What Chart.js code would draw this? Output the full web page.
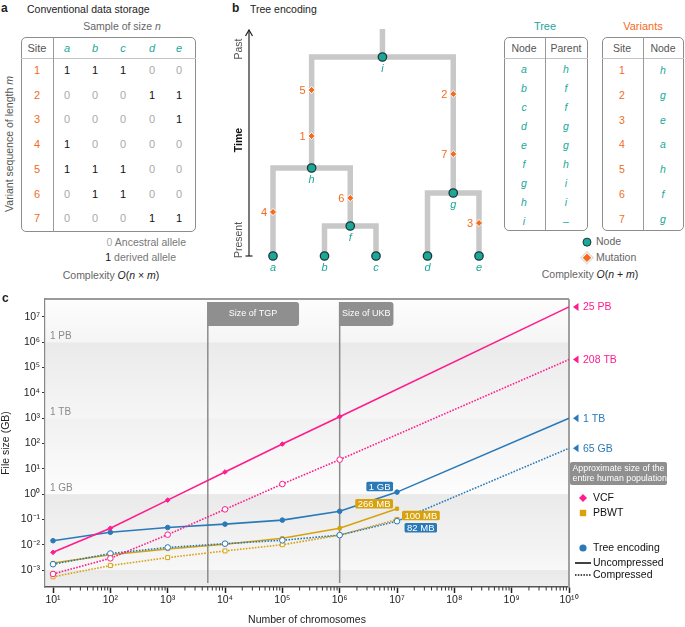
<!DOCTYPE html>
<html><head><meta charset="utf-8">
<script src="https://cdn.jsdelivr.net/npm/chart.js@4.4.1/dist/chart.umd.min.js"></script>
<style>
html,body{margin:0;padding:0;background:#fff;}
body{width:685px;height:627px;position:relative;overflow:hidden;font-family:'Liberation Sans',Arial,sans-serif;font-size:10.5px;color:#222;}
.t{position:absolute;white-space:nowrap;line-height:1;}
.c{transform:translate(-50%,-50%);}
.l{transform:translate(0,-50%);}
.r{transform:translate(-100%,-50%);}
.rot{transform:translate(-50%,-50%) rotate(-90deg);}
.box{position:absolute;border:1.3px solid #8d8d8d;border-radius:5px;box-sizing:border-box;}
.hl{position:absolute;height:0;border-top:1px solid #c4c4c4;}
.vl{position:absolute;width:0;border-left:1.3px solid #9a9a9a;}
</style></head><body>
<canvas id="tree" width="268" height="266" style="position:absolute;left:228px;top:18px;"></canvas>
<canvas id="sizes" width="685" height="337" style="position:absolute;left:0;top:290px;"></canvas>
<script>
// ---------------- DATA ----------------
// Panel a
const sampleNames = ['a','b','c','d','e'];
const siteIds = [1,2,3,4,5,6,7];
const genotypes = [
  [1,1,1,0,0],
  [0,0,0,1,1],
  [0,0,0,0,1],
  [1,0,0,0,0],
  [1,1,1,0,0],
  [0,1,1,0,0],
  [0,0,0,1,1]
];
// Panel b
const nodeNames   = ['a','b','c','d','e','f','g','h','i'];
const nodeParents = ['h','f','f','g','g','h','i','i',null];
const nodeTimes   = [0,0,0,0,0,30,63,88,199];
const rootStubTime = 227;
const mutationSites = [1,2,3,4,5,6,7];
const mutationNodes = ['h','g','e','a','h','f','g'];
const mutationTimes = [120,162,33,44,166,58,102];
// Panel c
const xCounts          = [1e1, 1e2, 1e3, 1e4, 1e5, 1e6, 1e7, 1e10];
const vcfUncompressed  = [0.005, 0.045, 0.58, 7.5, 95, 1150, null, 2.5e7];
const vcfCompressed    = [0.0007, 0.0029, 0.025, 0.25, 2.5, 23, null, 2.08e5];
const pbwtUncompressed = [0.0019, 0.0040, 0.0068, 0.0105, 0.018, 0.045, 0.266, null];
const pbwtCompressed   = [0.00054, 0.0015, 0.0031, 0.0057, 0.010, 0.024, 0.10, null];
const treeUncompressed = [0.0144, 0.031, 0.048, 0.065, 0.094, 0.21, 1.2, 1000];
const treeCompressed   = [0.0017, 0.0045, 0.0078, 0.011, 0.015, 0.024, 0.085, 65];
const xTickExponents = [1,2,3,4,5,6,7,8,9,10];
const yTickExponents = [-3,-2,-1,0,1,2,3,4,5,6,7];
const bandValues = [1e6, 1e3, 1e0, 1e-3];
const bandLabels = ['1 PB','1 TB','1 GB'];
const markerValues = [5008, 1e6];
const markerLabels = ['Size of TGP','Size of UKB'];
const endLabels = ['25 PB','208 TB','1 TB','65 GB'];
const pointLabels = ['1 GB','266 MB','100 MB','82 MB'];

// ---------------- STYLE ----------------
const FONT = "'Liberation Sans', Arial, sans-serif";
const PINK = '#ff1c8d', BLUE = '#2a7ab9', GOLD = '#d8a20e';
const TEAL = '#1ba89a', ORANGE = '#f36b1e';

// ---------------- HTML helpers ----------------
function put(html, x, y, cls, style){
  const d = document.createElement('div');
  d.className = 't ' + (cls||'c');
  d.style.left = x+'px'; d.style.top = y+'px';
  if (style) d.style.cssText += style;
  d.innerHTML = html;
  document.body.appendChild(d);
  return d;
}
function rect(cls, x, y, w, h){
  const d = document.createElement('div');
  d.className = cls;
  d.style.left = x+'px'; d.style.top = y+'px';
  if (w!=null) d.style.width = w+'px';
  if (h!=null) d.style.height = h+'px';
  document.body.appendChild(d);
}

// ---------------- Panel a ----------------
put('a', 1, 8, 'l', 'font-weight:bold;font-size:12px;');
put('Conventional data storage', 27, 9, 'l');
put('Sample of size <i>n</i>', 122, 26, 'c', 'color:#666;');
rect('box', 21, 37, 175, 195);
rect('hl', 21, 58, 175, null);
rect('vl', 53, 37, null, 195);
put('Variant sequence of length <i>m</i>', 9, 144, 'rot', 'color:#555;');
const colX = [67, 95, 123, 152, 179];
put('Site', 37, 48, 'c', 'color:#555;font-size:11px;');
sampleNames.forEach((s,j)=>put('<i>'+s+'</i>', colX[j], 48, 'c', 'color:'+TEAL+';font-size:11px;'));
siteIds.forEach((s,i)=>{
  const ry = 70 + i*24.7;
  put(String(s), 37, ry, 'c', 'color:'+ORANGE+';font-size:11px;');
  genotypes[i].forEach((g,j)=>put(String(g), colX[j], ry, 'c',
     'font-size:11px;color:'+(g? '#111':'#aaa')+';'));
});
put('<span style="color:#aaa">0</span> Ancestral allele', 186, 242, 'r', 'color:#777;');
put('<span style="color:#111">1</span> derived allele', 176, 257, 'r', 'color:#777;');
put('<span style="color:#666">Complexity</span> <i>O</i>(<i>n</i> × <i>m</i>)', 111, 275, 'c');

// ---------------- Panel b (HTML parts) ----------------
put('b', 232, 8, 'l', 'font-weight:bold;font-size:12px;');
put('Tree encoding', 250, 9, 'l');
put('Tree', 545, 26, 'c', 'color:'+TEAL+';font-size:11px;');
put('Variants', 643, 26, 'c', 'color:'+ORANGE+';font-size:11px;');
rect('box', 504, 37, 84, 194);
rect('hl', 504, 58, 84, null);
rect('vl', 545, 37, null, 194);
rect('box', 602, 37, 82, 194);
rect('hl', 602, 58, 82, null);
rect('vl', 643, 37, null, 194);
put('Node', 524, 48, 'c', 'color:#555;');
put('Parent', 566, 48, 'c', 'color:#555;');
put('Site', 622, 48, 'c', 'color:#555;');
put('Node', 663, 48, 'c', 'color:#555;');
nodeNames.forEach((n,i)=>{
  const ry = 69 + i*19;
  put('<i>'+n+'</i>', 524, ry, 'c', 'color:'+TEAL+';');
  put(nodeParents[i] ? '<i>'+nodeParents[i]+'</i>' : '–', 566, ry, 'c', 'color:'+TEAL+';');
});
mutationSites.forEach((s,i)=>{
  const ry = 70 + i*24.8;
  put(String(s), 622, ry, 'c', 'color:'+ORANGE+';');
  put('<i>'+mutationNodes[i]+'</i>', 663, ry, 'c', 'color:'+TEAL+';');
});
put('<span style="display:inline-block;width:7px;height:7px;border-radius:50%;background:'+TEAL+';border:1.3px solid #1d3935;vertical-align:middle"></span>', 587, 241, 'c');
put('Node', 596, 241, 'l', 'color:#666;');
put('<span style="display:inline-block;width:6px;height:6px;background:'+ORANGE+';border:1px solid #fff;outline:1px solid #ddd;transform:rotate(45deg);vertical-align:middle"></span>', 587, 257, 'c');
put('Mutation', 596, 257, 'l', 'color:#666;');
put('<span style="color:#666">Complexity</span> <i>O</i>(<i>n</i> + <i>m</i>)', 590, 274, 'c');

// ---------------- Panel c label ----------------
put('c', 2, 298, 'l', 'font-weight:bold;font-size:12px;');

// ---------------- Panel b tree chart ----------------
const leafNames = nodeNames.filter((n,i)=>nodeTimes[i]===0);
function nodeX(n){
  const li = leafNames.indexOf(n);
  if (li >= 0) return li;
  const kids = nodeNames.filter((c,i)=>nodeParents[i]===n);
  return kids.reduce((s,k)=>s+nodeX(k),0)/kids.length;
}
function nodeT(n){ return nodeTimes[nodeNames.indexOf(n)]; }
const treeDatasets = [];
treeDatasets.push({
  type:'scatter', order:0, clip:false,
  data: nodeNames.map(n=>({x:nodeX(n), y:nodeT(n), name:n})),
  pointRadius:4.2, pointBackgroundColor:TEAL, pointBorderColor:'#1d3935', pointBorderWidth:1.3
});
treeDatasets.push({
  type:'scatter', order:1, clip:false,
  data: mutationSites.map((s,i)=>({x:nodeX(mutationNodes[i]), y:mutationTimes[i], site:s})),
  pointStyle:'rectRot', pointRadius:3.6, pointBackgroundColor:ORANGE, pointBorderColor:'#fff', pointBorderWidth:1
});
nodeNames.forEach((n,i)=>{
  const p = nodeParents[i];
  if (!p) return;
  treeDatasets.push({
    type:'line', order:2, clip:false,
    data:[{x:nodeX(n),y:nodeT(n)},{x:nodeX(n),y:nodeT(p)},{x:nodeX(p),y:nodeT(p)}],
    borderColor:'#c8c8c8', borderWidth:5.5, pointRadius:0, borderJoinStyle:'miter', borderCapStyle:'butt', tension:0
  });
});
const rootName = nodeNames[nodeParents.indexOf(null)];
treeDatasets.push({
  type:'line', order:2, clip:false,
  data:[{x:nodeX(rootName),y:nodeT(rootName)},{x:nodeX(rootName),y:rootStubTime}],
  borderColor:'#c8c8c8', borderWidth:5.5, pointRadius:0, borderCapStyle:'butt'
});

const treeDecor = {
  id:'treeDecor',
  afterDatasetsDraw(chart){
    const {ctx, scales:{x,y}} = chart;
    ctx.save();
    ctx.textAlign='center'; ctx.textBaseline='middle';
    ctx.font = 'italic 11px '+FONT; ctx.fillStyle = TEAL;
    nodeNames.forEach(n=>{
      ctx.fillText(n, x.getPixelForValue(nodeX(n)), y.getPixelForValue(nodeT(n)) + 12);
    });
    ctx.font = '11px '+FONT; ctx.fillStyle = ORANGE; ctx.textAlign='right';
    mutationSites.forEach((s,i)=>{
      ctx.fillText(String(s), x.getPixelForValue(nodeX(mutationNodes[i])) - 6, y.getPixelForValue(mutationTimes[i]) + 0.5);
    });
    // time arrow
    const ax = 21, y0 = y.getPixelForValue(0), y1 = y.getPixelForValue(rootStubTime) + 1;
    ctx.strokeStyle='#222'; ctx.lineWidth=1.2;
    ctx.beginPath(); ctx.moveTo(ax, y0); ctx.lineTo(ax, y1); ctx.stroke();
    ctx.beginPath(); ctx.moveTo(ax-3.5, y1+6); ctx.lineTo(ax, y1); ctx.lineTo(ax+3.5, y1+6); ctx.stroke();
    ctx.beginPath(); ctx.moveTo(ax-3.5, y0); ctx.lineTo(ax+3.5, y0); ctx.stroke();
    const rotText = (t, cy, font, color)=>{
      ctx.save(); ctx.translate(11, cy); ctx.rotate(-Math.PI/2);
      ctx.font=font; ctx.fillStyle=color; ctx.textAlign='center'; ctx.textBaseline='middle';
      ctx.fillText(t,0,0); ctx.restore();
    };
    rotText('Past', 31, '10.5px '+FONT, '#555');
    rotText('Time', 122, 'bold 10.5px '+FONT, '#111');
    rotText('Present', 222, '10.5px '+FONT, '#555');
    ctx.restore();
  }
};

new Chart(document.getElementById('tree'), {
  type:'scatter',
  data:{datasets:treeDatasets},
  options:{
    responsive:false, animation:false, events:[],
    layout:{padding:{left:45, right:17, top:11, bottom:28}},
    scales:{
      x:{type:'linear', min:0, max:leafNames.length-1, display:false},
      y:{type:'linear', min:0, max:rootStubTime, display:false}
    },
    plugins:{legend:{display:false}, tooltip:{enabled:false}}
  },
  plugins:[treeDecor]
});

// ---------------- Panel c chart ----------------
const SUP = {'-':'⁻','0':'⁰','1':'¹','2':'²','3':'³','4':'⁴','5':'⁵','6':'⁶','7':'⁷','8':'⁸','9':'⁹'};
function powLabel(v){
  const e = Math.round(Math.log10(v));
  return '10' + String(e).split('').map(ch=>SUP[ch]).join('');
}
function series(values, color, dashed, style){
  return {
    data: xCounts.map((x,i)=>({x:x, y:values[i]})).filter(p=>p.y!==null),
    borderColor:color, borderWidth:1.6, borderDash: dashed ? [1.6,1.4] : [],
    pointStyle:style,
    pointRadius: ctx => (ctx.raw && ctx.raw.x >= 1e10) ? 0 : (dashed ? 2.8 : 2.3),
    pointBackgroundColor: dashed ? '#fff' : color,
    pointBorderColor: color, pointBorderWidth:1,
    tension:0, fill:false, clip:false
  };
}
const sizeDatasets = [
  series(vcfUncompressed, PINK, false, 'rectRot'),
  series(vcfCompressed, PINK, true, 'circle'),
  series(treeUncompressed, BLUE, false, 'circle'),
  series(treeCompressed, BLUE, true, 'circle'),
  series(pbwtUncompressed, GOLD, false, 'rect'),
  series(pbwtCompressed, GOLD, true, 'rect')
];

function roundRect(ctx, x, y, w, h, r){
  ctx.beginPath();
  if (ctx.roundRect) ctx.roundRect(x,y,w,h,r); else ctx.rect(x,y,w,h);
}

const sizeDecor = {
  id:'sizeDecor',
  beforeDraw(chart){
    const {ctx, chartArea:ca, scales:{y}} = chart;
    const edges = [ca.top, ...bandValues.map(v=>y.getPixelForValue(v)), ca.bottom];
    const grads = [['#fdfdfd','#f5f5f5'],['#eaeaea','#f6f6f6'],['#f1f1f1','#fdfdfd'],['#eaeaea','#f7f7f7'],['#e9e9e9','#eeeeee']];
    ctx.save();
    for (let i=0;i<edges.length-1;i++){
      const g = ctx.createLinearGradient(0, edges[i], 0, edges[i+1]);
      g.addColorStop(0, grads[i][0]); g.addColorStop(1, grads[i][1]);
      ctx.fillStyle = g;
      ctx.fillRect(ca.left, edges[i], ca.right-ca.left, edges[i+1]-edges[i]);
    }
    ctx.font = '10px '+FONT; ctx.fillStyle = '#8a8a8a'; ctx.textBaseline='alphabetic'; ctx.textAlign='left';
    bandLabels.forEach((t,i)=>ctx.fillText(t, ca.left+5, y.getPixelForValue(bandValues[i]) - 3));
    ctx.restore();
  },
  beforeDatasetsDraw(chart){
    const {ctx, chartArea:ca, scales:{x}} = chart;
    ctx.save();
    const boxTop = ca.top + 3, boxH = 24;
    const minW = [92, 52];
    ctx.font = '9px '+FONT;
    markerValues.forEach((v,i)=>{
      const px = x.getPixelForValue(v);
      const bw = Math.max(minW[i], ctx.measureText(markerLabels[i]).width + 6);
      ctx.strokeStyle = '#8c8c8c'; ctx.lineWidth = 1.5;
      ctx.beginPath(); ctx.moveTo(px, boxTop); ctx.lineTo(px, ca.bottom-4); ctx.stroke();
      ctx.fillStyle = '#8f8f8f';
      roundRect(ctx, px-0.75, boxTop, bw, boxH, [0,3,3,0]); ctx.fill();
      ctx.fillStyle = '#fff'; ctx.textAlign='center'; ctx.textBaseline='middle';
      ctx.fillText(markerLabels[i], px - 0.75 + bw/2, boxTop + boxH/2);
    });
    // frame: top & right
    ctx.strokeStyle = '#7a7a7a'; ctx.lineWidth = 1.3;
    ctx.beginPath(); ctx.moveTo(ca.left, ca.top); ctx.lineTo(ca.right, ca.top); ctx.stroke();
    ctx.strokeStyle = '#a0a0a0'; ctx.lineWidth = 2;
    ctx.beginPath(); ctx.moveTo(ca.right, ca.top); ctx.lineTo(ca.right, ca.bottom); ctx.stroke();
    ctx.restore();
  },
  afterDatasetsDraw(chart){
    const {ctx, scales:{x,y}} = chart;
    ctx.save();
    const idx = xCounts.indexOf(1e7);
    const px = x.getPixelForValue(1e7);
    const tag = (text, color, left, cy, alignRight)=>{
      ctx.font = '9.5px '+FONT;
      const w = ctx.measureText(text).width + 5, h = 9.5;
      const l = alignRight ? left - w : left;
      ctx.fillStyle = color; roundRect(ctx, l, cy-h/2, w, h, 1.5); ctx.fill();
      ctx.fillStyle = '#fff'; ctx.textAlign='center'; ctx.textBaseline='middle';
      ctx.fillText(text, l + w/2, cy + 0.5);
    };
    tag(pointLabels[0], BLUE, px-4, y.getPixelForValue(treeUncompressed[idx]) - 5.5, true);
    tag(pointLabels[1], GOLD, px-4, y.getPixelForValue(pbwtUncompressed[idx]) - 5, true);
    tag(pointLabels[2], GOLD, px+5, y.getPixelForValue(pbwtCompressed[idx]) - 4, false);
    tag(pointLabels[3], BLUE, px+40, y.getPixelForValue(treeCompressed[idx]) + 6.5, true);
    ctx.restore();
  },
  afterDraw(chart){
    const {ctx, chartArea:ca, scales:{x,y}} = chart;
    ctx.save();
    // minor ticks on x
    ctx.strokeStyle = '#333'; ctx.lineWidth = 1;
    for (let e=xTickExponents[0]; e<xTickExponents[xTickExponents.length-1]; e++){
      for (let k=2;k<=9;k++){
        const px = x.getPixelForValue(k*Math.pow(10,e));
        ctx.beginPath(); ctx.moveTo(px, ca.bottom); ctx.lineTo(px, ca.bottom+3.5); ctx.stroke();
      }
    }
    // end-of-line annotations
    const last = xCounts.length-1;
    const ends = [[vcfUncompressed[last], PINK],[vcfCompressed[last], PINK],[treeUncompressed[last], BLUE],[treeCompressed[last], BLUE]];
    ctx.font = '10.5px '+FONT; ctx.textAlign='left'; ctx.textBaseline='middle';
    ends.forEach((e,i)=>{
      const py = y.getPixelForValue(e[0]);
      ctx.fillStyle = e[1];
      ctx.beginPath(); ctx.moveTo(ca.right+4, py); ctx.lineTo(ca.right+9.5, py-4); ctx.lineTo(ca.right+9.5, py+4); ctx.closePath(); ctx.fill();
      ctx.fillText(endLabels[i], ca.right+14, py+0.5);
    });
    // population box
    const bx = ca.right+1, by = 172, bw = 97, bh = 23;
    ctx.fillStyle = '#8f8f8f'; roundRect(ctx, bx, by, bw, bh, 2); ctx.fill();
    ctx.fillStyle = '#fff'; ctx.font = '8.8px '+FONT; ctx.textAlign='left';
    ctx.fillText('Approximate size of the', bx+2.5, by+6.5);
    ctx.fillText('entire human population', bx+2.5, by+17);
    // legend
    const mx = ca.right+14, tx = ca.right+24;
    ctx.font = '10.5px '+FONT; ctx.fillStyle = '#111'; ctx.textAlign='left'; ctx.textBaseline='middle';
    ctx.fillStyle = PINK; ctx.beginPath(); ctx.moveTo(mx, 204); ctx.lineTo(mx+4, 208); ctx.lineTo(mx, 212); ctx.lineTo(mx-4, 208); ctx.closePath(); ctx.fill();
    ctx.fillStyle = '#111'; ctx.fillText('VCF', tx, 208.5);
    ctx.fillStyle = GOLD; ctx.fillRect(mx-3.2, 219.8, 6.4, 6.4);
    ctx.fillStyle = '#111'; ctx.fillText('PBWT', tx, 223.5);
    ctx.fillStyle = BLUE; ctx.beginPath(); ctx.arc(mx, 258, 3.6, 0, Math.PI*2); ctx.fill();
    ctx.fillStyle = '#111'; ctx.fillText('Tree encoding', tx, 258.5);
    ctx.strokeStyle = '#111'; ctx.lineWidth = 1.6;
    ctx.beginPath(); ctx.moveTo(ca.right+6, 273); ctx.lineTo(ca.right+22, 273); ctx.stroke();
    ctx.fillText('Uncompressed', tx, 273);
    ctx.setLineDash([1.5,1.3]);
    ctx.beginPath(); ctx.moveTo(ca.right+6, 285); ctx.lineTo(ca.right+22, 285); ctx.stroke();
    ctx.setLineDash([]);
    ctx.fillText('Compressed', tx, 285);
    ctx.restore();
  }
};

new Chart(document.getElementById('sizes'), {
  type:'line',
  data:{datasets:sizeDatasets},
  options:{
    responsive:false, animation:false, events:[],
    layout:{padding:{left:0, right:116, top:9, bottom:0}},
    plugins:{legend:{display:false}, tooltip:{enabled:false}},
    scales:{
      x:{
        type:'logarithmic', bounds:'data', min:Math.pow(10,0.86), max:1e10,
        afterBuildTicks: s => { s.ticks = xTickExponents.map(e=>({value:Math.pow(10,e)})); },
        afterFit: s => { s.height = 40; },
        ticks:{callback:v=>powLabel(v), autoSkip:false, maxRotation:0, padding:1, color:'#222', font:{family:FONT, size:10.5}},
        grid:{drawOnChartArea:false, tickLength:6, tickColor:'#222', tickWidth:1.5},
        border:{color:'#555', width:1.5},
        title:{display:true, text:'Number of chromosomes', color:'#222', font:{family:FONT, size:10.5}, padding:{top:0,bottom:1}}
      },
      y:{
        type:'logarithmic', bounds:'data', min:Math.pow(10,-3.67), max:Math.pow(10,7.71),
        afterBuildTicks: s => { s.ticks = yTickExponents.map(e=>({value:Math.pow(10,e)})); },
        afterFit: s => { s.width = 45; },
        ticks:{callback:v=>powLabel(v), autoSkip:false, padding:2, color:'#222', font:{family:FONT, size:10.5}},
        grid:{drawOnChartArea:false, tickLength:3, tickColor:'#333', tickWidth:1},
        border:{color:'#888', width:1.2},
        title:{display:true, text:'File size (GB)', color:'#222', font:{family:FONT, size:10.5}, padding:{top:0,bottom:0}}
      }
    }
  },
  plugins:[sizeDecor]
});
</script>
</body></html>
